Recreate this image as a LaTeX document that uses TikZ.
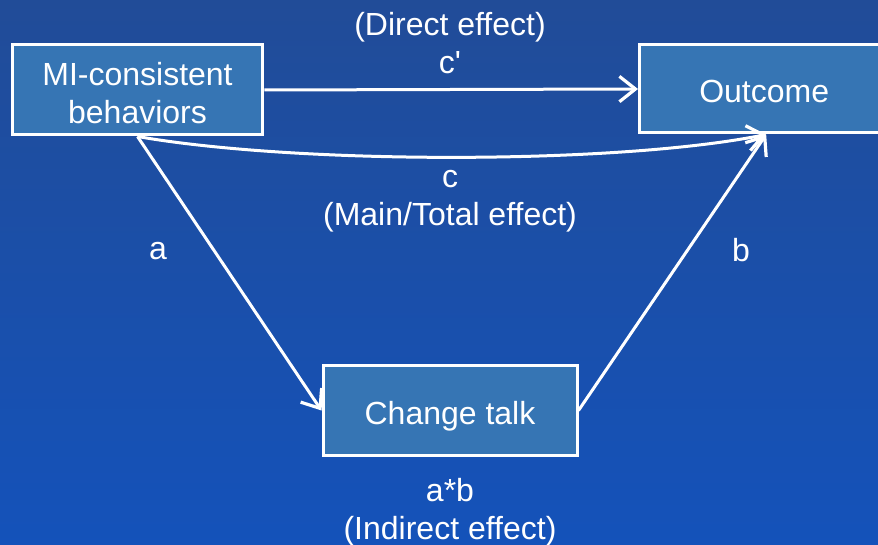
\documentclass[tikz,border=0pt]{standalone}
\usepackage{fontspec}
\setmainfont{Liberation Sans}
\usetikzlibrary{arrows.meta}
\definecolor{bgtop}{RGB}{33,76,152}
\definecolor{bgbottom}{RGB}{20,82,186}
\definecolor{boxblue}{RGB}{54,117,180}
\newcommand\medfont{\fontsize{24}{28.5}\selectfont}

\begin{document}
\begin{tikzpicture}[x=0.75pt,y=-0.75pt,
  varbox/.style={draw=white, fill=boxblue, line width=2.25pt, text=white,
    align=center, inner sep=0pt, font=\medfont},
  onebox/.style={varbox, text height=21pt, text depth=0pt},
  lbl/.style={text=white, align=center, font=\medfont},
  path/.style={draw=white, line width=2.25pt,
    -{Straight Barb[length=12pt,width=19pt,line width=2.4pt]}}]
% background
\shade[top color=bgtop, bottom color=bgbottom] (0,0) rectangle (878,545);
\useasboundingbox (0,0) rectangle (878,545);

% variables
\node[varbox, minimum width=188pt, minimum height=67.5pt] (mi) at (137.5,90) {\rule{0pt}{22pt}MI-consistent\\behaviors};
\node[onebox, minimum width=190pt, minimum height=66pt, anchor=west] (out) at (638,89) {\hspace*{-3pt}Outcome};
\node[onebox, minimum width=190.5pt, minimum height=67pt] (talk) at (450,410.5) {Change talk};

% effects
\draw[path] (mi.east) -- (out.west);
\draw[path] (mi.south) .. controls +(160,28) and +(-150,30) .. (out.south);
\draw[path] (mi.south) -- (talk.west);
\draw[path] (talk.east) -- (out.south);

% labels
\node[lbl] (direct) at (450,43) {(Direct effect)\\c\textquotesingle};
\node[lbl] (total) at (450,201) {c\\(Main/Total effect)};
\node[lbl] (la) at (158,251) {a};
\node[lbl] (lb) at (741,250) {b};
\node[lbl] (indirect) at (450,512) {a*b\\(Indirect effect)};
\end{tikzpicture}
\end{document}
